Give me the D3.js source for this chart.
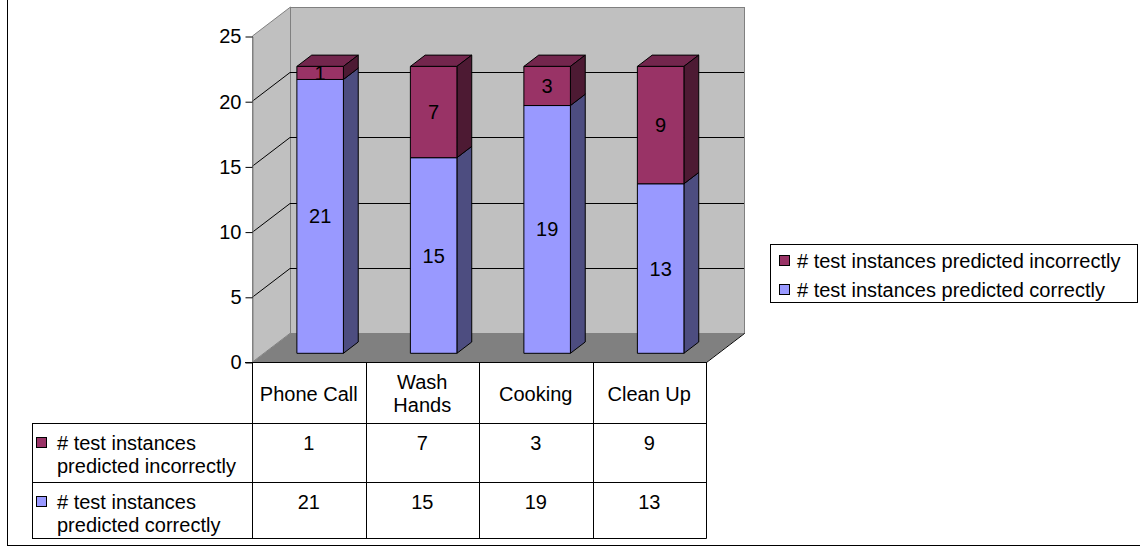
<!DOCTYPE html>
<html>
<head>
<meta charset="utf-8">
<script src="https://cdn.jsdelivr.net/npm/d3@7"></script>
<style>
    body { margin: 0; background: #fff; }
    svg text { font-family: "Liberation Sans", Arial, sans-serif; fill: #000; }
</style>
</head>
<body>
<svg id="chart" width="1140" height="546"></svg>
<script>
// chart values
const categories = ["Phone Call", "Wash Hands", "Cooking", "Clean Up"];
const predictedCorrectly = [21, 15, 19, 13];
const predictedIncorrectly = [1, 7, 3, 9];
const seriesNames = ["# test instances predicted incorrectly", "# test instances predicted correctly"];
const yTicks = [0, 5, 10, 15, 20, 25];

const plotLeft = 252, plotRight = 706, plotBottom = 362, plotTop = 36,
      depthX = 38, depthY = 29,
      barFront = 0.3, barBack = 0.69,
      fontSize = 20;

const svg = d3.select("#chart");

let xScale = d3.scaleBand()
    .domain(categories)
    .range([plotLeft, plotRight])
    .paddingInner(0.59)
    .paddingOuter(0.295);

let columnScale = d3.scaleBand()
    .domain(categories)
    .range([plotLeft, plotRight]);

let yScale = d3.scaleLinear()
    .domain([0, 25])
    .range([plotBottom, plotTop]);

// chart area border
svg.append("rect")
    .attr("x", 7.5).attr("y", -10)
    .attr("width", 1200).attr("height", 555.5)
    .attr("fill", "none").attr("stroke", "#000");

drawWalls();
drawBars();
drawTable();
drawLegend();

function drawWalls() {
    let walls = svg.append("g");
    // back wall
    walls.append("rect")
        .attr("x", plotLeft + depthX + 0.5)
        .attr("y", plotTop - depthY + 0.5)
        .attr("width", plotRight - plotLeft)
        .attr("height", plotBottom - plotTop)
        .attr("fill", "#c0c0c0")
        .attr("stroke", "#808080");
    // side wall
    walls.append("polygon")
        .attr("points", [
            [plotLeft + 0.5, plotTop], [plotLeft + depthX + 0.5, plotTop - depthY],
            [plotLeft + depthX + 0.5, plotBottom - depthY], [plotLeft + 0.5, plotBottom]
        ].join(" "))
        .attr("fill", "#c0c0c0")
        .attr("stroke", "#808080");
    // floor
    walls.append("polygon")
        .attr("points", [
            [plotLeft, plotBottom + 0.5], [plotRight, plotBottom + 0.5],
            [plotRight + depthX, plotBottom - depthY + 0.5], [plotLeft + depthX, plotBottom - depthY + 0.5]
        ].join(" "))
        .attr("fill", "#808080");
    walls.append("line")
        .attr("x1", plotRight + 0.5).attr("y1", plotBottom + 0.5)
        .attr("x2", plotRight + depthX + 0.5).attr("y2", plotBottom - depthY + 0.5)
        .attr("stroke", "#000");

    // gridlines
    yTicks.filter(d => d > 0 && d < 25).forEach(function (d) {
        let y = Math.round(yScale(d)) + 0.5;
        walls.append("polyline")
            .attr("points", [[plotLeft, y], [plotLeft + depthX, y - depthY], [plotRight + depthX, y - depthY]].join(" "))
            .attr("fill", "none")
            .attr("stroke", "#000");
    });

    // y axis
    let axis = svg.append("g")
        .attr("transform", "translate(" + (plotLeft + 0.5) + ",0.5)")
        .call(d3.axisLeft(yScale).tickValues(yTicks).tickSize(7).tickPadding(4).tickSizeOuter(0));
    axis.select(".domain").attr("stroke", "#808080");
    axis.selectAll(".tick line").attr("stroke", "#000");
    axis.selectAll(".tick text")
        .style("font-family", "'Liberation Sans', Arial, sans-serif")
        .style("font-size", fontSize + "px")
        .attr("fill", "#000");
}

function drawBars() {
    let series = [
        {values: predictedCorrectly, front: "#9999ff", side: "#4d4d80", top: "#7373bf"},
        {values: predictedIncorrectly, front: "#993366", side: "#4d1a33", top: "#73264d"}
    ];
    let stack = d3.stack().keys([0, 1])
        .value((d, k) => series[k].values[categories.indexOf(d)])(categories);

    let fx = plotLeft ? barFront * depthX : 0, fy = barFront * depthY;
    let sx = (barBack - barFront) * depthX, sy = (barBack - barFront) * depthY;
    let bars = svg.append("g");

    categories.forEach(function (cat, i) {
        stack.forEach(function (layer, k) {
            let seg = layer[i];
            let x0 = xScale(cat) + fx, x1 = x0 + xScale.bandwidth();
            let yTop = yScale(seg[1]) - fy, yBot = yScale(seg[0]) - fy;
            let g = bars.append("g")
                .attr("stroke", "#000")
                .attr("stroke-width", 1)
                .attr("stroke-linejoin", "round");
            g.append("polygon")
                .attr("points", [[x0, yTop], [x1, yTop], [x1 + sx, yTop - sy], [x0 + sx, yTop - sy]].join(" "))
                .attr("fill", series[k].top);
            g.append("polygon")
                .attr("points", [[x1, yTop], [x1 + sx, yTop - sy], [x1 + sx, yBot - sy], [x1, yBot]].join(" "))
                .attr("fill", series[k].side);
            g.append("rect")
                .attr("x", x0).attr("y", yTop)
                .attr("width", x1 - x0).attr("height", yBot - yTop)
                .attr("fill", series[k].front);
            bars.append("text")
                .attr("x", (x0 + x1) / 2)
                .attr("y", (yTop + yBot) / 2)
                .attr("text-anchor", "middle")
                .attr("dominant-baseline", "central")
                .style("font-size", fontSize + "px")
                .text(seg[1] - seg[0]);
        });
    });
}

function wrapText(textSel, content, maxWidth, lineHeight) {
    let words = content.split(" "), line = [], lines = [];
    let probe = textSel.append("tspan");
    words.forEach(function (w) {
        line.push(w);
        probe.text(line.join(" "));
        if (probe.node().getComputedTextLength() > maxWidth && line.length > 1) {
            line.pop();
            lines.push(line.join(" "));
            line = [w];
        }
    });
    lines.push(line.join(" "));
    probe.remove();
    lines.forEach(function (l, n) {
        textSel.append("tspan")
            .attr("x", textSel.attr("x"))
            .attr("dy", n === 0 ? 0 : lineHeight)
            .text(l);
    });
    return lines.length;
}

function drawTable() {
    let rowTops = [plotBottom, 423, 482, 538];
    let tableLeft = 32;
    let table = svg.append("g").attr("stroke", "#000").attr("fill", "none");

    table.append("line")
        .attr("x1", plotLeft - 7).attr("x2", plotRight)
        .attr("y1", rowTops[0] + 0.5).attr("y2", rowTops[0] + 0.5);
    rowTops.slice(1).forEach(function (y) {
        table.append("line")
            .attr("x1", tableLeft).attr("x2", plotRight + 0.5)
            .attr("y1", y + 0.5).attr("y2", y + 0.5);
    });
    table.append("line")
        .attr("x1", tableLeft + 0.5).attr("x2", tableLeft + 0.5)
        .attr("y1", rowTops[1]).attr("y2", rowTops[3] + 0.5);
    categories.concat([null]).forEach(function (cat, i) {
        let x = Math.round(cat === null ? plotRight : columnScale(cat)) + 0.5;
        table.append("line")
            .attr("x1", x).attr("x2", x)
            .attr("y1", rowTops[0]).attr("y2", rowTops[3] + 0.5);
    });

    let lineHeight = 23;
    // category header
    categories.forEach(function (cat) {
        let t = svg.append("text")
            .attr("x", columnScale(cat) + columnScale.bandwidth() / 2)
            .attr("text-anchor", "middle")
            .attr("dominant-baseline", "central")
            .style("font-size", fontSize + "px");
        let n = wrapText(t, cat, columnScale.bandwidth() - 6, lineHeight);
        t.attr("y", (rowTops[0] + rowTops[1]) / 2 + 1 - (n - 1) * lineHeight / 2);
    });

    // data rows
    let rows = [
        {name: seriesNames[0], values: predictedIncorrectly, color: "#993366"},
        {name: seriesNames[1], values: predictedCorrectly, color: "#9999ff"}
    ];
    rows.forEach(function (row, r) {
        let y = rowTops[r + 1] + 20;
        svg.append("rect")
            .attr("x", 36.5).attr("y", y - 5.5)
            .attr("width", 10).attr("height", 10)
            .attr("fill", row.color).attr("stroke", "#000");
        let t = svg.append("text")
            .attr("x", 57)
            .attr("y", y)
            .attr("dominant-baseline", "central")
            .style("font-size", fontSize + "px");
        wrapText(t, row.name, plotLeft - 57 - 4, lineHeight);
        row.values.forEach(function (v, i) {
            svg.append("text")
                .attr("x", columnScale(categories[i]) + columnScale.bandwidth() / 2)
                .attr("y", y)
                .attr("text-anchor", "middle")
                .attr("dominant-baseline", "central")
                .style("font-size", fontSize + "px")
                .text(v);
        });
    });
}

function drawLegend() {
    let legend = svg.append("g");
    legend.append("rect")
        .attr("x", 770.5).attr("y", 244.5)
        .attr("width", 367).attr("height", 58)
        .attr("fill", "#fff").attr("stroke", "#000");
    let colors = ["#993366", "#9999ff"];
    seriesNames.forEach(function (name, i) {
        let y = 261 + i * 29;
        legend.append("rect")
            .attr("x", 779.5).attr("y", y - 5.5)
            .attr("width", 10).attr("height", 10)
            .attr("fill", colors[i]).attr("stroke", "#000");
        legend.append("text")
            .attr("x", 797)
            .attr("y", y)
            .attr("dominant-baseline", "central")
            .style("font-size", fontSize + "px")
            .text(name);
    });
}
</script>
</body>
</html>
